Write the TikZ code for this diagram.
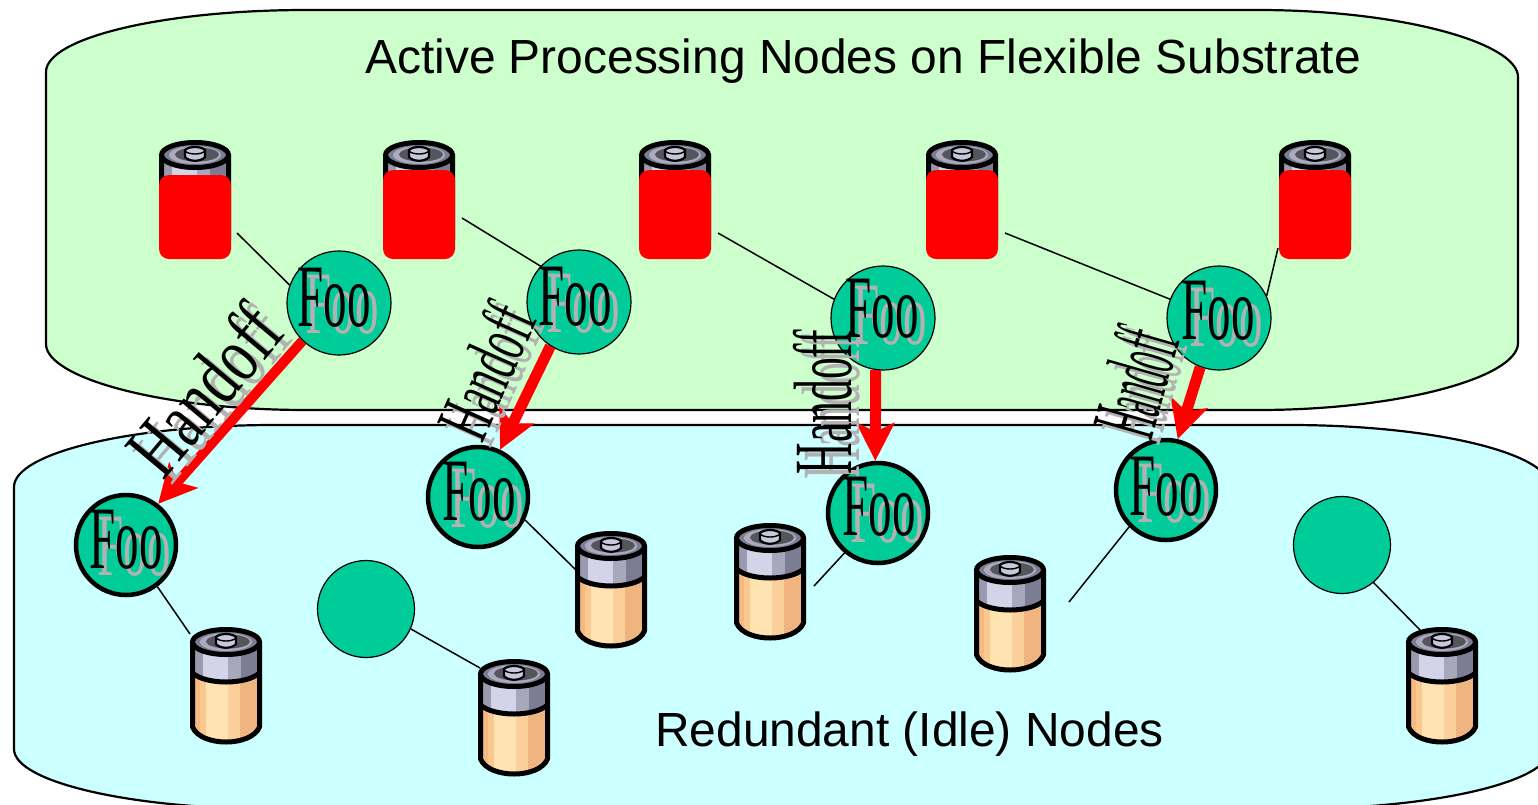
\documentclass[tikz,border=0pt]{standalone}
\usepackage{fontspec}
\setmainfont{Liberation Serif}
\newfontfamily\labelfont{Liberation Sans}
\usetikzlibrary{arrows.meta}

\definecolor{activebg}{HTML}{CCFFCC}
\definecolor{idlebg}{HTML}{CCFFFF}
\definecolor{nodegreen}{HTML}{00CC99}
\definecolor{bandA}{HTML}{9A9AB0}
\definecolor{bandB}{HTML}{D4D4E8}
\definecolor{bandC}{HTML}{A8A8BC}
\definecolor{bandD}{HTML}{7C7C94}
\definecolor{bodyA}{HTML}{F4B880}
\definecolor{bodyB}{HTML}{FBC890}
\definecolor{bodyC}{HTML}{FFE3B0}
\definecolor{bodyD}{HTML}{FBCF9A}
\definecolor{bodyE}{HTML}{F0B480}
\definecolor{capring}{HTML}{ABABBC}
\definecolor{capdark}{HTML}{55555C}
\definecolor{capstud}{HTML}{C8C8DC}

\begin{document}
\begin{tikzpicture}[
	x=1pt, y=-1pt,
	region/.style={draw=black, line width=2.2pt},
	activefoo/.style={circle, fill=nodegreen, draw=black, line width=1.2pt, minimum size=104pt, inner sep=0pt},
	idlefoo/.style={circle, fill=nodegreen, draw=black, line width=4.5pt, minimum size=100pt, inner sep=0pt},
	sparefoo/.style={circle, fill=nodegreen, draw=black, line width=1.2pt, minimum size=97pt, inner sep=0pt},
	wire/.style={draw=black, line width=1.5pt},
	handoffarrow/.style={draw=red, line width=11pt, -{Stealth[length=38pt, width=38pt, inset=9pt, fill=red]}},
	bigword/.style={inner sep=0pt, font=\fontsize{40}{40}\selectfont},
	shadeword/.style={bigword, text=black!30},
	title/.style={inner sep=0pt, anchor=base west, font=\labelfont\fontsize{47.9}{50}\selectfont},
	cover/.style={fill=red, rounded corners=10pt},
	battery/.pic={
		\begin{scope}
			\clip (-33.5,15) -- (-33.5,100) .. controls (-25,120) and (25,120) .. (33.5,100) -- (33.5,15) -- cycle;
			\fill[bodyA] (-36,46) rectangle (-26,120);
			\fill[bodyB] (-26,46) rectangle (-20,120);
			\fill[bodyC] (-20,46) rectangle (2,120);
			\fill[bodyD] (2,46) rectangle (14,120);
			\fill[bodyE] (14,46) rectangle (36,120);
			\clip (-36,15) rectangle (36,46) (-33.5,46) .. controls (-20,58) and (20,58) .. (33.5,46) -- cycle;
			\fill[bandA] (-36,15) rectangle (-23,62);
			\fill[bandB] (-23,15) rectangle (2,62);
			\fill[bandC] (2,15) rectangle (15,62);
			\fill[bandD] (15,15) rectangle (36,62);
		\end{scope}
		\draw[line width=5pt] (-33.5,46) .. controls (-20,58) and (20,58) .. (33.5,46);
		\draw[fill=bandD, line width=5pt] (0,15) ellipse [x radius=33.5, y radius=12.5];
		\fill[capring] (0,15) ellipse [x radius=26, y radius=9];
		\fill[capdark] (2,14.5) ellipse [x radius=22, y radius=7];
		\draw[fill=capstud, line width=2.2pt] (-10,10) -- (-10,17) .. controls (-6,22) and (6,22) .. (10,17) -- (10,10) .. controls (6,6) and (-6,6) .. cycle;
		\draw[line width=1.4pt] (-10,11) .. controls (-6,15) and (6,15) .. (10,11);
		\draw[line width=5pt, line join=round] (-33.5,15) -- (-33.5,100) .. controls (-25,120) and (25,120) .. (33.5,100) -- (33.5,15);
	}
	]
	\useasboundingbox (0,0) rectangle (1538,804);
	\fill[white] (0,0) rectangle (1538,804);
	\clip (0,0) rectangle (1538,804);

	\draw[region, fill=activebg] (46,72) .. controls (46,38) and (163,10) .. (306,10)
	-- (1258,10) .. controls (1401,10) and (1518,43) .. (1518,77)
	-- (1518,343) .. controls (1518,377) and (1401,410) .. (1258,410)
	-- (306,410) .. controls (163,410) and (46,378) .. (46,344) -- cycle;
	\draw[region, fill=idlebg] (14,487) .. controls (14,453) and (131,425) .. (274,425)
	-- (1290,425) .. controls (1433,425) and (1550,453) .. (1550,487)
	-- (1550,749) .. controls (1550,782) and (1433,809) .. (1290,809)
	-- (274,809) .. controls (131,809) and (14,782) .. (14,749) -- cycle;

	\node[title] (activetitle) at (365,73) {Active Processing Nodes on Flexible Substrate};
	\node[title] (idletitle) at (655,746) {Redundant (Idle) Nodes};

	\foreach \x/\y in {195/140,419/140,675/140,962/140,1315/140,
		226/627,611/531,770/523,1010/555,514/659,1442/627}
		\pic at (\x,\y) {battery};
	\fill[cover] (159,175) rectangle (231,259);
	\foreach \x in {383,639,926,1279}
		\fill[cover] (\x,170) rectangle (\x+72,259);

	\foreach \n/\x/\y in {1/339/303,2/579/302,3/883/318,4/1219/318}
		\node[activefoo] (top\n) at (\x,\y) {};
	\foreach \n/\x/\y in {1/126/545,2/478/497,3/878/513,4/1166/490}
		\node[idlefoo] (idle\n) at (\x,\y) {};
	\node[sparefoo] (spare1) at (366,609) {};
	\node[sparefoo] (spare2) at (1342,545) {};

	\foreach \a/\n/\x/\y in {top1.160/w1/237/233, top2.137/w2/462/218, top3.159/w3/718/233,
		top4.159/w4/1005/233, top4.25/w5/1278/248, idle1.-53/w6/190/634, idle2.-26/w7/577/571,
		idle3.230/w8/814/586, idle4.225/w9/1069/602, spare1.-24/w10/480/668, spare2.-50/w11/1422/632}{
		\coordinate (\n) at (\x,\y);
		\draw[wire] (\n) -- (\a);
	}

	\draw[handoffarrow, line width=10pt] (top1.226) -- (idle1.52);
	\draw[handoffarrow] (top2.237) -- (idle2.65);
	\draw[handoffarrow] (top3.262) -- (idle3.93);
	\draw[handoffarrow] (top4.249) -- (idle4.77);

	\foreach \n/\x/\y/\r/\sx/\sy in {1/204/390/50/1.46/2.0, 2/486/371/66/1.03/1.9,
		3/823/402/90/1.09/2.07, 4/1135/382/74/0.80/2.3}{
		\node[shadeword, rotate=\r, xscale=\sx, yscale=\sy] (handshade\n) at (\x+8,\y+5) {Handoff};
		\node[bigword, rotate=\r, xscale=\sx, yscale=\sy] (hand\n) at (\x,\y) {Handoff};
	}

	\foreach \n/\x/\y in {1/334/298, 2/575/297, 3/882/309, 4/1218/311,
		5/126/540, 6/479/492, 7/879/507, 8/1166/487}{
		\node[shadeword, xscale=1.175, yscale=2.23] (fooshade\n) at (\x+8,\y+7) {Foo};
		\node[bigword, xscale=1.175, yscale=2.23] (foo\n) at (\x,\y) {Foo};
	}
\end{tikzpicture}
\end{document}
